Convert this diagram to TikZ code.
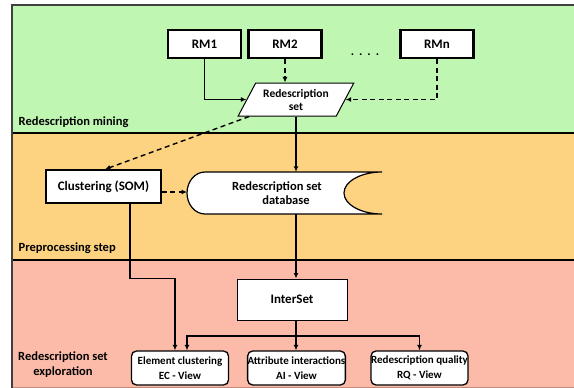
\documentclass[tikz,border=0pt]{standalone}
\usepackage{fontspec}
\setmainfont{Carlito}
\usetikzlibrary{arrows.meta,shapes.geometric,calc}

\definecolor{minegreen}{RGB}{190,246,178}
\definecolor{preorange}{RGB}{253,210,128}
\definecolor{explpink}{RGB}{252,187,168}
\definecolor{framegray}{RGB}{64,64,64}
\definecolor{edgepink}{RGB}{196,140,128}

\begin{document}
\begin{tikzpicture}[x=1pt,y=-1pt,
  txt/.style={font=\bfseries\fontsize{#1}{#1}\selectfont},
  rmbox/.style={draw, fill=white, line width=2.2pt, minimum width=73pt,
    minimum height=28pt, inner sep=0pt, font=\bfseries\fontsize{13}{14}\selectfont},
  plainbox/.style={draw, fill=white, inner sep=0pt, font=\bfseries\fontsize{13}{14}\selectfont},
  viewbox/.style={draw, fill=white, rounded corners=5pt, line width=1.3pt,
    minimum width=97pt, minimum height=34pt, inner sep=0pt, align=center,
    font=\bfseries\fontsize{11}{15.5}\selectfont},
  lbl/.style={inner sep=0pt, font=\bfseries\fontsize{12.5}{15.5}\selectfont},
  line/.style={line width=1.4pt},
  link/.style={line, -{Latex[length=5.5pt,width=5pt]}},
  dlink/.style={link, dash pattern=on 5pt off 3.5pt}]

\useasboundingbox (0,0) rectangle (574,388);

% stage bands
\fill[minegreen] (12,5) rectangle (574,133);
\fill[preorange] (12,133) rectangle (574,260);
\fill[explpink] (12,260) rectangle (574,388);
\draw[line width=1.5pt] (12,133) -- (574,133);
\draw[line width=1.5pt] (12,260) -- (574,260);
\draw[edgepink, line width=1pt] (12,387.5) -- (574,387.5);
\draw[framegray, line width=2pt] (12,388) -- (12,5) -- (574,5);

% stage labels
\node[lbl, anchor=west] (lmine) at (18.5,122) {Redescription mining};
\node[lbl, anchor=west] (lprep) at (18.5,248) {Preprocessing step};
\node[lbl, align=center] (lexpl) at (63,364.5) {Redescription set\\exploration};

% redescription mining
\node[rmbox] (rm1) at (204.5,44) {RM1};
\node[rmbox] (rm2) at (285,44) {RM2};
\node[rmbox] (rmn) at (437,44) {RMn};
\node[txt=12.5, anchor=base, inner sep=0pt] (dots) at (365,55) {.\hspace{5pt}.\hspace{5pt}.\hspace{5pt}.};

\node[trapezium, trapezium left angle=56, trapezium right angle=124,
  trapezium stretches=true, minimum width=116pt, minimum height=33pt,
  draw, fill=white, line width=1pt, inner sep=0pt, align=center,
  font=\bfseries\fontsize{11.5}{13}\selectfont] (ps) at (296,99.5) {Redescription\\set};

\draw[link] (rm1.south) |- (ps.west);
\draw[dlink] (rm2.south) -- (rm2.south |- ps.north);
\draw[dlink] (rmn.south) |- (ps.east);

% preprocessing: clustering box and the stored-data shape
\node[plainbox, line width=1.4pt, minimum width=115pt, minimum height=33pt] (clu) at (103.5,186.5) {Clustering (SOM)};

\draw[fill=white, line width=1.2pt] (382,172) -- (205,172)
  .. controls (195.1,172) and (187,181.4) .. (187,193)
  .. controls (187,204.6) and (195.1,214) .. (205,214) -- (382,214)
  .. controls (361,214) and (344,204.6) .. (344,193)
  .. controls (344,181.4) and (361,172) .. (382,172);
\node[minimum width=195pt, minimum height=42pt, inner sep=0pt, align=center,
  font=\bfseries\fontsize{12.5}{13.5}\selectfont] (db) at (277,193)
  {Redescription set\\\hspace*{18pt}database};
\coordinate (dbl) at (187,192);

\draw[dlink] ($(ps.bottom left corner)!0.12!(ps.bottom right corner)$) -- ([xshift=1.5pt]clu.north);
\draw[link] (ps.south) -- (ps.south |- db.north);
\draw[dlink] (clu.east |- dbl) -- (dbl);

% exploration
\node[plainbox, line width=1pt, minimum width=110pt, minimum height=41pt] (ints) at (292,299.5) {InterSet};

\node[viewbox] (ec) at (180,368) {Element clustering\\EC - View};
\node[viewbox] (ai) at (296.5,368) {Attribute interactions\\AI - View};
\node[viewbox] (rq) at (419.5,368) {Redescription quality\\RQ - View};

\draw[link] (db.south -| ps.south) -- (ints.north -| ps.south);
\draw[link] ([xshift=26.5pt]clu.south) |- ([xshift=-5pt]ec.north |- ints.north) -- ([xshift=-5pt]ec.north);

\coordinate (jn) at (296,336);
\draw[line] (ints.south -| jn) -- (jn);
\draw[link] (jn) -| ([xshift=7pt]ec.north);
\draw[link] (jn) -| (rq.north);
\draw[link] (jn) -- (jn |- ai.north);
\end{tikzpicture}
\end{document}
